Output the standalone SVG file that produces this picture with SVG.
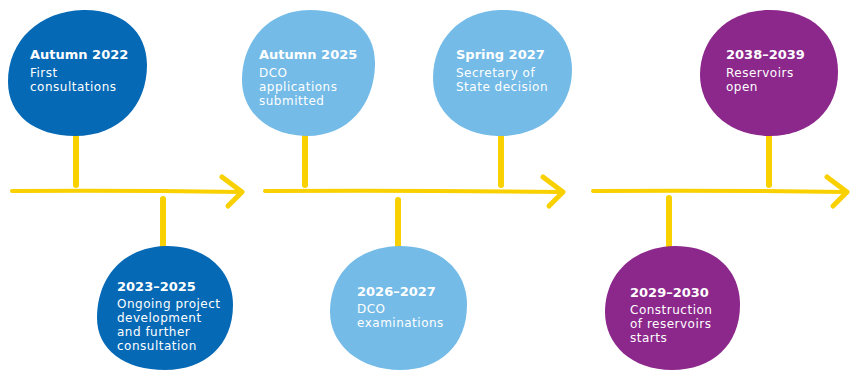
<svg xmlns="http://www.w3.org/2000/svg" width="852" height="371" viewBox="0 0 852 371">
<style>
.dark{fill:#0669b5}
.light{fill:#74bbe7}
.purple{fill:#8c278b}
.t{font-family:"DejaVu Sans","Noto Sans",sans-serif;fill:#ffffff}
.h{font-size:13px;font-weight:700}
.b{font-size:12px;font-weight:400;letter-spacing:0.5px}
.ln{stroke:#f9d000;fill:none;stroke-linecap:round;stroke-linejoin:round}
</style>
<rect width="852" height="371" fill="#ffffff"/>
<g id="connectors">
<path class="ln" stroke-width="4" d="M12 191 Q120 190 241 192"/>
<polyline class="ln" stroke-width="5" points="222,177 242,192 228,206"/>
<path class="ln" stroke-width="4" d="M265 191 Q410 190 562 192"/>
<polyline class="ln" stroke-width="5" points="543,177 563,192 549,206"/>
<path class="ln" stroke-width="4" d="M593 191 Q720 190 846 192"/>
<polyline class="ln" stroke-width="5" points="827,177 847,192 833,206"/>
<line class="ln" stroke-width="6" x1="76" y1="136" x2="76" y2="185"/>
<line class="ln" stroke-width="6" x1="163" y1="199" x2="163" y2="248"/>
<line class="ln" stroke-width="6" x1="305" y1="136" x2="305" y2="185"/>
<line class="ln" stroke-width="6" x1="398" y1="200" x2="398" y2="248"/>
<line class="ln" stroke-width="6" x1="501" y1="136" x2="501" y2="185"/>
<line class="ln" stroke-width="6" x1="669" y1="198" x2="669" y2="248"/>
<line class="ln" stroke-width="6" x1="769" y1="136" x2="769" y2="185"/>
</g>
<g id="node-autumn-2022">
<path class="dark" d="M83 10 C120 9 147 30 147 65 C147 105 120 136 75 136 C35 136 8 115 8 82 C8 40 40 11 83 10 Z"/>
<text class="t h" x="30" y="59">Autumn 2022</text>
<text class="t b" x="30" y="77">First</text>
<text class="t b" x="30" y="91">consultations</text>
</g>
<g id="node-2023-2025">
<path class="dark" d="M165 246 C205 245 233 270 233 305 C233 345 205 370 165 370 C125 370 97 350 97 318 C97 280 120 248 165 246 Z"/>
<text class="t h" x="117" y="291">2023–2025</text>
<text class="t b" x="117" y="308">Ongoing project</text>
<text class="t b" x="117" y="322">development</text>
<text class="t b" x="117" y="336">and further</text>
<text class="t b" x="117" y="350">consultation</text>
</g>
<g id="node-autumn-2025">
<path class="light" d="M310 10 C350 10 376 30 375 65 C374 105 348 137 305 136 C268 135 242 112 242 80 C242 40 270 10 310 10 Z"/>
<text class="t h" x="259" y="59">Autumn 2025</text>
<text class="t b" x="259" y="77">DCO</text>
<text class="t b" x="259" y="91">applications</text>
<text class="t b" x="259" y="105">submitted</text>
</g>
<g id="node-2026-2027">
<path class="light" d="M400 246 C440 246 467 270 467 305 C467 345 440 370 400 370 C360 370 330 345 330 312 C330 275 355 247 400 246 Z"/>
<text class="t h" x="357" y="296">2026–2027</text>
<text class="t b" x="357" y="313">DCO</text>
<text class="t b" x="357" y="327">examinations</text>
</g>
<g id="node-spring-2027">
<path class="light" d="M500 10 C545 9 572 35 572 70 C572 110 540 137 498 136 C458 135 433 110 433 78 C433 40 460 11 500 10 Z"/>
<text class="t h" x="456" y="59">Spring 2027</text>
<text class="t b" x="456" y="77">Secretary of</text>
<text class="t b" x="456" y="91">State decision</text>
</g>
<g id="node-2029-2030">
<path class="purple" d="M675 246 C715 246 740 270 740 305 C740 345 712 370 672 370 C632 370 605 345 605 312 C605 275 632 247 675 246 Z"/>
<text class="t h" x="630" y="297">2029–2030</text>
<text class="t b" x="630" y="314">Construction</text>
<text class="t b" x="630" y="328">of reservoirs</text>
<text class="t b" x="630" y="342">starts</text>
</g>
<g id="node-2038-2039">
<path class="purple" d="M770 10 C812 10 838 35 838 72 C838 110 810 136 770 136 C728 136 700 108 700 75 C700 38 728 10 770 10 Z"/>
<text class="t h" x="726" y="59">2038–2039</text>
<text class="t b" x="726" y="77">Reservoirs</text>
<text class="t b" x="726" y="91">open</text>
</g>
</svg>
